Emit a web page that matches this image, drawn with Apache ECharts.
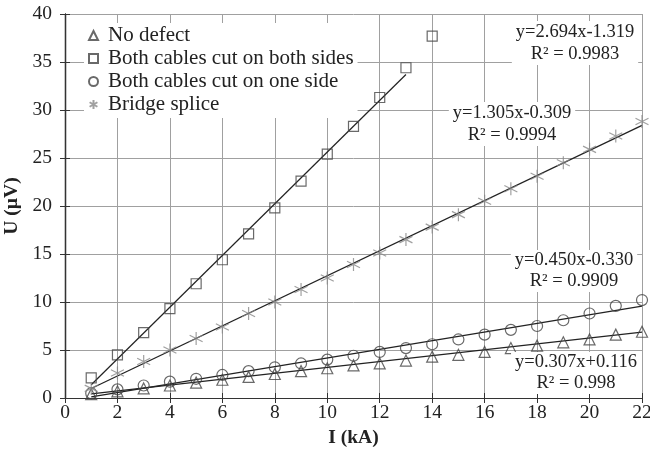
<!DOCTYPE html>
<html>
<head>
<meta charset="utf-8">
<script src="https://cdn.jsdelivr.net/npm/echarts@6/dist/echarts.min.js"></script>
<style>html,body{margin:0;padding:0;background:#fff}#c{width:650px;height:453px}</style>
</head>
<body>
<div id="c"></div>
<script>
const current = [1,2,3,4,5,6,7,8,9,10,11,12,13,14,15,16,17,18,19,20,21,22];
const noDefect = [0.4,0.7,1.0,1.3,1.6,1.9,2.2,2.5,2.8,3.1,3.4,3.6,3.9,4.3,4.5,4.8,5.2,5.45,5.8,6.1,6.6,6.9];
const bothSides = [2.1,4.5,6.8,9.3,11.9,14.4,17.1,19.8,22.6,25.4,28.3,31.3,34.4,37.7];
const oneSide = [0.5,0.9,1.3,1.7,2.0,2.4,2.8,3.2,3.6,4.0,4.4,4.8,5.2,5.6,6.1,6.6,7.1,7.5,8.1,8.8,9.6,10.2];
const bridge = [1.0,2.6,3.8,5.0,6.2,7.4,8.8,10.0,11.3,12.5,13.9,15.1,16.5,17.8,19.1,20.5,21.8,23.1,24.5,25.9,27.3,28.8];
const seriesNames = ['No defect','Both cables cut on both sides','Both cables cut on one side','Bridge splice'];
// trendline coefficients [slope, intercept, xStart, xEnd]
const fitNoDefect = [0.307, 0.116, 1, 22];
const fitBothSides = [2.694, -1.319, 1, 13];
const fitOneSide = [0.450, -0.330, 1, 22];
const fitBridge = [1.305, -0.309, 1, 22];
const fitLabels = [
  'y=0.307x+0.116\nR² = 0.998',
  'y=2.694x-1.319\nR² = 0.9983',
  'y=0.450x-0.330\nR² = 0.9909',
  'y=1.305x-0.309\nR² = 0.9994'
];
const xTicks = [0,2,4,6,8,10,12,14,16,18,20,22];
const yTicks = [0,5,10,15,20,25,30,35,40];

const pairs = (ys) => ys.map((v,i)=>[current[i], v]);
const fitLine = (f) => [[f[2], f[0]*f[2]+f[1]], [f[3], f[0]*f[3]+f[1]]];

const font = 'Liberation Serif, Times New Roman, serif';
const mk = {color:'rgba(255,255,255,0)', borderColor:'#444', borderWidth:1.2};
const star = 'path://M0,-1L0,1M-0.87,-0.5L0.87,0.5M-0.87,0.5L0.87,-0.5';

const chart = echarts.init(document.getElementById('c'), null, {renderer:'canvas'});
const baseX = {type:'value', min:xTicks[0], max:xTicks[xTicks.length-1], interval:2};
const baseY = {type:'value', min:yTicks[0], max:yTicks[yTicks.length-1], interval:5};
const axLine = {show:true, lineStyle:{color:'#333', width:1.2}};
const annStyle = (t, lh) => ({text:t, font:'18.5px ' + font, fill:'#222', align:'center', lineHeight:lh, backgroundColor:'#fff', padding:[0,4]});
chart.setOption({
  animation:false,
  backgroundColor:'#fff',
  grid:{left:65, right:8, top:14, bottom:55, containLabel:false, outerBoundsMode:'none'},
  xAxis:[
    Object.assign({}, baseX, {position:'bottom', axisLine:axLine,
      axisTick:{show:true, length:5, lineStyle:{color:'#333'}},
      axisLabel:{fontFamily:font, fontSize:19.5, color:'#222', margin:5},
      splitLine:{show:true, lineStyle:{color:'#a0a0a0', width:1}},
      name:'I (kA)', nameLocation:'middle', nameGap:30,
      nameTextStyle:{fontFamily:font, fontSize:19.5, fontWeight:'bold', color:'#222'}}),
    Object.assign({}, baseX, {position:'bottom', axisLine:axLine,
      axisTick:{show:true, inside:true, length:5, lineStyle:{color:'#333'}},
      axisLabel:{show:false}, splitLine:{show:false}}),
    Object.assign({}, baseX, {position:'top', axisLine:axLine,
      axisTick:{show:true, inside:true, length:5, lineStyle:{color:'#333'}},
      axisLabel:{show:false}, splitLine:{show:false}})
  ],
  yAxis:[
    Object.assign({}, baseY, {position:'left', axisLine:axLine,
      axisTick:{show:true, length:5, lineStyle:{color:'#333'}},
      axisLabel:{fontFamily:font, fontSize:19.5, color:'#222', margin:13},
      splitLine:{show:true, lineStyle:{color:'#a0a0a0', width:1}},
      name:'U (µV)', nameLocation:'middle', nameGap:41, nameRotate:90,
      nameTextStyle:{fontFamily:font, fontSize:19.5, fontWeight:'bold', color:'#222'}}),
    Object.assign({}, baseY, {position:'left', axisLine:axLine,
      axisTick:{show:true, inside:true, length:5, lineStyle:{color:'#333'}},
      axisLabel:{show:false}, splitLine:{show:false}}),
    Object.assign({}, baseY, {position:'right', axisLine:axLine,
      axisTick:{show:true, inside:true, length:5, lineStyle:{color:'#333'}},
      axisLabel:{show:false}, splitLine:{show:false}})
  ],
  legend:{
    data:seriesNames, orient:'vertical', left:84, top:23,
    itemWidth:9, itemHeight:9, itemGap:2,
    backgroundColor:'#fff', padding:[2,4,3,4],
    textStyle:{fontFamily:font, fontSize:21, color:'#222', padding:[0,0,0,5]}
  },
  series:[
    {name:'fit0', type:'line', data:fitLine(fitNoDefect), showSymbol:false, lineStyle:{color:'#222', width:1.2}, z:1, silent:true},
    {name:'fit1', type:'line', data:fitLine(fitBothSides), showSymbol:false, lineStyle:{color:'#222', width:1.2}, z:1, silent:true},
    {name:'fit2', type:'line', data:fitLine(fitOneSide), showSymbol:false, lineStyle:{color:'#222', width:1.2}, z:1, silent:true},
    {name:'fit3', type:'line', data:fitLine(fitBridge), showSymbol:false, lineStyle:{color:'#222', width:1.2}, z:1, silent:true},
    {name:seriesNames[0], type:'scatter', data:pairs(noDefect), symbol:'triangle', symbolSize:11, itemStyle:mk, z:3},
    {name:seriesNames[1], type:'scatter', data:pairs(bothSides), symbol:'rect', symbolSize:10, itemStyle:mk, z:3},
    {name:seriesNames[2], type:'scatter', data:pairs(oneSide), symbol:'circle', symbolSize:11, itemStyle:mk, z:3},
    {name:seriesNames[3], type:'scatter', data:pairs(bridge), symbol:star, symbolSize:13, itemStyle:{color:'#888', borderColor:'#888', borderWidth:1.2}, z:3}
  ],
  graphic:[
    {type:'text', x:575, y:21, z:10, style:annStyle(fitLabels[1], 22)},
    {type:'text', x:512, y:102, z:10, style:annStyle(fitLabels[3], 22)},
    {type:'text', x:574, y:250, z:10, style:annStyle(fitLabels[2], 21)},
    {type:'text', x:576, y:352, z:10, style:annStyle(fitLabels[0], 21)}
  ]
});
</script>
</body>
</html>
